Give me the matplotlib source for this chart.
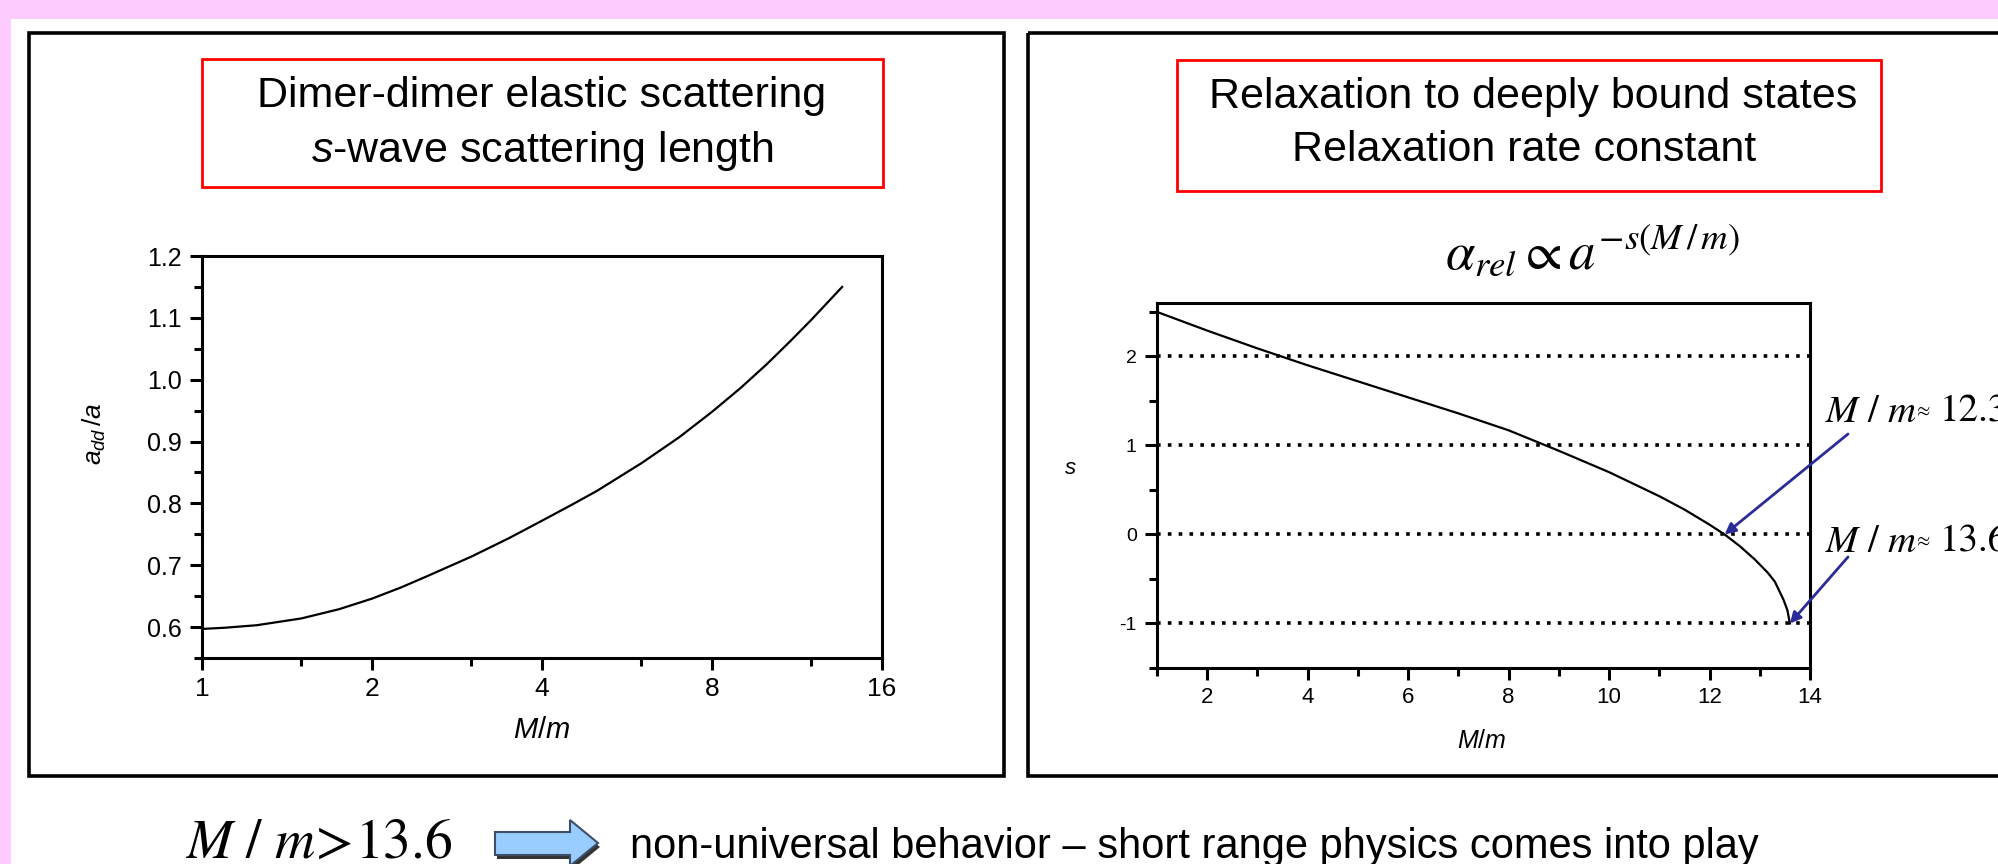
import matplotlib
matplotlib.use("Agg")
import matplotlib.pyplot as plt
import matplotlib.transforms as mtransforms
from matplotlib.patches import Rectangle, Polygon
from matplotlib.ticker import (FixedLocator, FixedFormatter, NullFormatter,
                               FormatStrFormatter, MultipleLocator)

plt.rcParams["font.family"] = ["Liberation Sans", "DejaVu Sans"]
plt.rcParams["mathtext.fontset"] = "custom"
plt.rcParams["mathtext.rm"] = "Liberation Sans"
plt.rcParams["mathtext.it"] = "Liberation Sans:italic"
plt.rcParams["axes.unicode_minus"] = False

# left panel: dimer-dimer s-wave scattering length a_dd/a vs M/m
dd_mass_ratio = [1.0, 1.1, 1.25, 1.5, 1.75, 2.0, 2.25, 2.5, 3.0, 3.5, 4.0, 4.5, 5.0, 6.0,
                 7.0, 8.0, 9.0, 10.0, 11.0, 12.0, 13.6]
dd_length = [0.597, 0.599, 0.603, 0.614, 0.629, 0.646, 0.664, 0.682, 0.714, 0.744, 0.772,
             0.797, 0.820, 0.865, 0.907, 0.948, 0.987, 1.025, 1.062, 1.097, 1.15]
dd_xticks = [1, 2, 4, 8, 16]
dd_xminor = [1.5, 3, 6, 12]
dd_yticks = [0.6, 0.7, 0.8, 0.9, 1.0, 1.1, 1.2]

# right panel: relaxation exponent s vs M/m
rel_mass_ratio = [1.0, 2.0, 3.0, 4.0, 5.0, 6.0, 7.0, 8.0, 9.0, 10.0, 11.0, 11.5, 12.0,
                  12.3, 12.6, 12.9, 13.16, 13.3, 13.47, 13.55, 13.6]
rel_s = [2.50, 2.29, 2.09, 1.90, 1.72, 1.54, 1.36, 1.17, 0.94, 0.70, 0.43, 0.28, 0.11,
         0.0, -0.13, -0.28, -0.43, -0.53, -0.73, -0.85, -1.0]
rel_levels = [2, 1, 0, -1]
rel_xticks = [2, 4, 6, 8, 10, 12, 14]
rel_yticks = [-1, 0, 1, 2]
crit_points = [(12.3, 0.0), (13.6, -1.0)]
crit_labels = ["12.3", "13.6"]

W, H = 1999, 864
fig = plt.figure(figsize=(W / 100, H / 100), dpi=100)
fig.patch.set_facecolor("#ffccff")
# pixel coordinates, y pointing down
px = mtransforms.Affine2D().scale(1.0 / W, -1.0 / H).translate(0, 1) + fig.transFigure


def rect(x0, y0, x1, y1, **kw):
    fig.add_artist(Rectangle((x0, y0), x1 - x0, y1 - y0, transform=px, **kw))


rect(11, 19, W + 10, H + 10, facecolor="white", edgecolor="none", zorder=-5)
rect(29, 33, 1004, 776, fill=False, edgecolor="black", lw=2.6)
rect(1028, 33, W + 20, 776, fill=False, edgecolor="black", lw=2.6)
rect(202, 59, 883, 187, fill=False, edgecolor="red", lw=2)
rect(1177, 60, 1881, 191, fill=False, edgecolor="red", lw=2)

fig.text(542, 96, "Dimer-dimer elastic scattering", transform=px,
         ha="center", va="center", fontsize=31)
fig.text(542, 151, r"$s$-wave scattering length", transform=px,
         ha="center", va="center", fontsize=31)
fig.text(1533, 97, "Relaxation to deeply bound states", transform=px,
         ha="center", va="center", fontsize=31)
fig.text(1524, 150, "Relaxation rate constant", transform=px,
         ha="center", va="center", fontsize=31)


def style(ax, xsize, ysize):
    for sp in ax.spines.values():
        sp.set_linewidth(2.2)
    ax.tick_params(which="major", direction="out", length=8.5, width=2.2)
    ax.tick_params(which="minor", direction="out", length=5.5, width=2.2)
    ax.tick_params(axis="x", labelsize=xsize, pad=5)
    ax.tick_params(axis="y", labelsize=ysize, pad=6)


# ---- left axes
ax1 = fig.add_axes([202 / W, 1 - 658 / H, 680 / W, 402 / H])
ax1.plot(dd_mass_ratio, dd_length, color="black", lw=1.6)
ax1.set_xscale("log", base=2)
ax1.set_xlim(1, 16)
ax1.set_ylim(0.55, 1.2)
ax1.xaxis.set_major_locator(FixedLocator(dd_xticks))
ax1.xaxis.set_major_formatter(FixedFormatter([str(t) for t in dd_xticks]))
ax1.xaxis.set_minor_locator(FixedLocator(dd_xminor))
ax1.xaxis.set_minor_formatter(NullFormatter())
ax1.yaxis.set_major_locator(FixedLocator(dd_yticks))
ax1.yaxis.set_major_formatter(FormatStrFormatter("%.1f"))
ax1.yaxis.set_minor_locator(MultipleLocator(0.05))
style(ax1, 19, 18)

fig.text(542, 730, r"$M/m$", transform=px, ha="center", va="center", fontsize=21)
fig.text(94, 434, r"$a_{dd}\,/a$", transform=px, ha="center", va="center",
         fontsize=19, rotation=90)

# ---- right axes
ax2 = fig.add_axes([1157 / W, 1 - 668 / H, 653 / W, 365 / H])
ax2.plot(rel_mass_ratio, rel_s, color="black", lw=1.6, zorder=3)
ax2.hlines(rel_levels, 1, 14, colors="black", lw=2.6, linestyles=[(0, (1, 2.0))])
ax2.set_xlim(1, 14)
ax2.set_ylim(-1.5, 2.6)
ax2.xaxis.set_major_locator(FixedLocator(rel_xticks))
ax2.xaxis.set_minor_locator(MultipleLocator(1))
ax2.yaxis.set_major_locator(FixedLocator(rel_yticks))
ax2.yaxis.set_minor_locator(MultipleLocator(0.5))
style(ax2, 16, 14)

fig.text(1482, 741, r"$M/m$", transform=px, ha="center", va="center", fontsize=18)
fig.text(1070, 468, r"$s$", transform=px, ha="center", va="center", fontsize=16)

fig.text(1592, 252, r"$\alpha_{rel} \propto a^{-s(M\,/\,m)}$", transform=px,
         ha="center", va="center", fontsize=38, math_fontfamily="stix")

for (xv, yv), lab, tail_y, base_y in zip(crit_points, crit_labels, [434, 557], [422, 552]):
    ax2.annotate("", xy=(xv, yv), xycoords="data", xytext=(1848, tail_y), textcoords=px,
                 arrowprops=dict(arrowstyle="-|>", color="#2b2b99", lw=2,
                                 shrinkA=0, shrinkB=0, mutation_scale=16),
                 annotation_clip=False)
    fig.text(1825, base_y, r"$M\ /\ m$", transform=px, va="baseline",
             fontsize=28, math_fontfamily="stix")
    fig.text(1916, base_y - 11, "\u2248", transform=px, va="center",
             fontsize=14, family="STIXGeneral")
    fig.text(1940, base_y, lab, transform=px, va="baseline",
             fontsize=28, family="STIXGeneral")

# ---- bottom line
fig.text(185, 858, r"$M\ /\ m\!>\!13.6$", transform=px, va="baseline",
         fontsize=40, math_fontfamily="stix")
arrow_pts = [(495, 832), (570, 832), (570, 820), (598, 843), (570, 866), (570, 855), (495, 855)]
shadow = Polygon([(x + 2, y + 4) for x, y in arrow_pts], closed=True, transform=px,
                 facecolor="#333333", edgecolor="none")
body = Polygon(arrow_pts, closed=True, transform=px, facecolor="#99ccff",
               edgecolor="#3d4f66", lw=1.5)
fig.add_artist(shadow)
fig.add_artist(body)
fig.text(630, 858, "non-universal behavior \u2013 short range physics comes into play",
         transform=px, va="baseline", fontsize=30)

fig.savefig("out.png", dpi=100, facecolor=fig.get_facecolor())
